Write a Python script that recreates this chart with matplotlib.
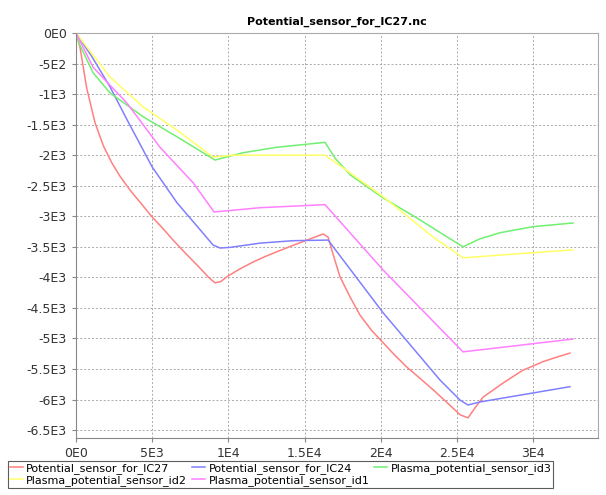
import numpy as np
import matplotlib.pyplot as plt
from matplotlib.ticker import FuncFormatter, MultipleLocator

# Potential_sensor_for_IC27 (red)
red_x = [0, 260, 700, 1250, 1800, 2360, 2900, 3540, 4300, 4990, 5700, 6370, 7200, 8140, 8700, 9120,
         9500, 9900, 10700, 11610, 12400, 13190, 14200, 15160, 15800, 16210, 16540, 16900, 17320,
         18000, 18640, 19400, 20150, 20900, 21710, 22600, 23430, 24300, 25200, 25720, 26200, 26710,
         27400, 28020, 28700, 29330, 30000, 30640, 31500, 32410]
red_y = [0, -230, -900, -1470, -1850, -2130, -2350, -2570, -2800, -3010, -3200, -3390, -3610, -3850,
         -4000, -4090, -4070, -3990, -3870, -3750, -3660, -3580, -3480, -3390, -3330, -3290, -3340,
         -3650, -3990, -4330, -4620, -4870, -5070, -5270, -5470, -5660, -5840, -6040, -6250, -6300,
         -6130, -5960, -5840, -5730, -5620, -5520, -5450, -5380, -5310, -5240]

# Potential_sensor_for_IC24 (blue)
blue_x = [0, 1050, 2230, 3350, 4990, 6630, 8140, 8990, 9450, 10100, 12070, 14240, 16540, 20150,
          23880, 25200, 25720, 26510, 32410]
blue_y = [0, -390, -880, -1420, -2190, -2780, -3220, -3470, -3520, -3510, -3440, -3400, -3390,
          -4580, -5680, -6010, -6090, -6040, -5790]

# Plasma_potential_sensor_id3 (green)
green_x = [0, 260, 1120, 2230, 4400, 6630, 9120, 10960, 13190, 16340, 17000, 17980, 20150, 22380,
           25390, 26500, 27820, 29990, 32610]
green_y = [0, -200, -650, -980, -1370, -1700, -2080, -1960, -1870, -1790, -2050, -2320, -2700,
           -3030, -3500, -3370, -3270, -3170, -3110]

# Plasma_potential_sensor_id2 (yellow)
yellow_x = [0, 2230, 4400, 6630, 8990, 10300, 16340, 17980, 20150, 23430, 25390, 32610]
yellow_y = [0, -720, -1210, -1590, -2030, -2000, -2000, -2290, -2680, -3340, -3680, -3550]

# Plasma_potential_sensor_id1 (magenta)
mag_x = [0, 1120, 3350, 5510, 7680, 9060, 12070, 16340, 20150, 25390, 32610]
mag_y = [0, -560, -1150, -1870, -2450, -2930, -2860, -2810, -3880, -5220, -5010]

names = ["Potential_sensor_for_IC27", "Potential_sensor_for_IC24", "Plasma_potential_sensor_id3",
         "Plasma_potential_sensor_id2", "Plasma_potential_sensor_id1"]
colors = ["#ff8080", "#8080ff", "#70f070", "#ffff66", "#ff80ff"]


def sci_fmt(v, pos):
    if abs(v) < 1e-9:
        return "0E0"
    e = int(np.floor(np.log10(abs(v))))
    m = v / 10 ** e
    ms = ("%.1f" % m).rstrip("0").rstrip(".")
    return "%sE%d" % (ms, e)


fig = plt.figure(figsize=(6.06, 4.95), dpi=100)
ax = fig.add_axes([76 / 606, 1 - 438 / 495, 522 / 606, 405 / 495])

series = [(red_x, red_y), (blue_x, blue_y), (green_x, green_y), (yellow_x, yellow_y), (mag_x, mag_y)]
lines = []
for (xs, ys), c, n in zip(series, colors, names):
    ln, = ax.plot(xs, ys, color=c, lw=1.1, label=n)
    lines.append(ln)

ax.set_xlim(0, 34250)
ax.set_ylim(-6630, 0)
ax.xaxis.set_major_locator(MultipleLocator(5000))
ax.yaxis.set_major_locator(MultipleLocator(500))
ax.xaxis.set_major_formatter(FuncFormatter(sci_fmt))
ax.yaxis.set_major_formatter(FuncFormatter(sci_fmt))
ax.grid(True, color="#aaaaaa", ls=(0, (2, 2)), lw=0.7)
for s in ax.spines.values():
    s.set_color("#aaaaaa")
ax.spines["left"].set_color("#888888")
ax.spines["bottom"].set_color("#888888")
ax.tick_params(labelsize=9, colors="#333333", length=3, color="#888888")
ax.set_title("Potential_sensor_for_IC27.nc", fontsize=8, fontweight="bold", pad=6)

# row-wise legend order (matplotlib fills columns first)
order = [0, 3, 1, 4, 2]
leg = fig.legend([lines[i] for i in order], [names[i] for i in order],
                 loc="upper left", bbox_to_anchor=(8 / 606, 1 - 461 / 495), ncol=3, fontsize=8,
                 frameon=True, fancybox=False, handlelength=1.2, handletextpad=0.3,
                 columnspacing=0.4, borderpad=0.15, labelspacing=0.15, borderaxespad=0)
leg.get_frame().set_edgecolor("#333333")
leg.get_frame().set_linewidth(0.8)

fig.savefig("out.png", dpi=100)
